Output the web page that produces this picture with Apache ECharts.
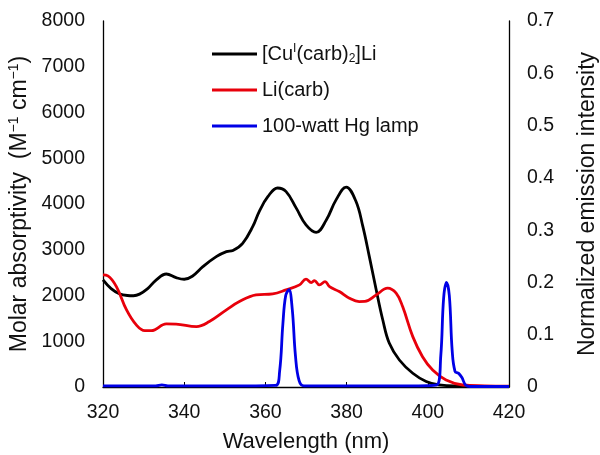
<!DOCTYPE html>
<html>
<head>
<meta charset="utf-8">
<script src="https://cdn.jsdelivr.net/npm/echarts@6/dist/echarts.min.js"></script>
<style>
  html, body { margin: 0; padding: 0; background: #fff; }
  #chart { width: 600px; height: 455px; }
</style>
</head>
<body>
<div id="chart"></div>
<script>
// absorption of the copper complex (left axis)
const cuWave = [320, 322, 324, 326, 327.5, 329, 331, 333, 335.6, 338, 340, 342, 344.6, 347.9, 350.4, 352, 354.4, 356.9, 358.5, 360.6, 363, 365.1, 367.6, 370, 372.5, 375, 377.4, 379.9, 382.3, 384, 385.6, 387.3, 388.9, 390.5, 393, 396.3, 399.6, 402.8, 408.5, 414, 420]
const cuAbs = [2340, 2150, 2040, 2000, 1995, 2030, 2150, 2330, 2470, 2390, 2355, 2420, 2630, 2850, 2960, 2985, 3140, 3510, 3840, 4160, 4350, 4270, 3910, 3545, 3380, 3650, 4090, 4370, 4060, 3510, 2850, 2120, 1470, 960, 590, 300, 120, 45, 20, 12, 10]

// absorption of Li(carb) (left axis)
const liWave = [320, 321.2, 323.3, 325.8, 328.2, 330.3, 331.9, 335.6, 338, 343, 346.2, 350.4, 353.6, 357.7, 361.8, 365.1, 368.4, 370, 371.3, 372.1, 373.3, 374.7, 375.8, 378.2, 380.7, 383.1, 384.5, 387.3, 390.1, 392.2, 393.8, 396.3, 398.7, 401.2, 404.5, 408.6, 414, 420]
const liAbs = [2450, 2430, 2195, 1685, 1357, 1232, 1232, 1379, 1375, 1320, 1430, 1685, 1867, 2013, 2035, 2123, 2232, 2357, 2283, 2327, 2232, 2305, 2195, 2086, 1940, 1867, 1870, 2013, 2160, 2050, 1758, 1101, 663, 372, 153, 44, 25, 20]

// Hg lamp emission (right axis)
const hgWave = [320, 333, 334.5, 336, 350, 362.5, 363.5, 364.3, 365, 365.8, 366.6, 367.4, 368.3, 369.5, 380, 395, 402.2, 403.2, 403.9, 404.6, 405.3, 406, 406.7, 407.6, 408.4, 409.3, 410.5, 420]
const hgInt = [0.002, 0.002, 0.004, 0.002, 0.002, 0.003, 0.03, 0.12, 0.175, 0.186, 0.15, 0.06, 0.012, 0.002, 0.002, 0.002, 0.004, 0.06, 0.17, 0.2, 0.175, 0.07, 0.03, 0.026, 0.018, 0.004, 0.001, 0.001]

const seriesNames = ['[CuI(carb)2]Li', 'Li(carb)', '100-watt Hg lamp']

const pairs = (xs, ys) => xs.map((x, i) => [x, ys[i]])
const font = 'Liberation Sans, Arial, sans-serif'
const ink = '#111'

const chart = echarts.init(document.getElementById('chart'))
chart.setOption({
  animation: false,
  textStyle: { fontFamily: font },
  grid: { left: 103, right: 91, top: 21, bottom: 68, outerBoundsMode: 'none' },
  legend: {
    left: 207,
    top: 38,
    orient: 'vertical',
    itemWidth: 45,
    itemHeight: 3,
    itemGap: 14,
    icon: 'rect',
    data: seriesNames,
    formatter: function (name) {
      if (name === seriesNames[0]) return '[Cu{sup|I}(carb){sub|2}]Li'
      return name
    },
    textStyle: {
      fontFamily: font,
      fontSize: 20,
      lineHeight: 22,
      color: ink,
      rich: {
        sup: { fontSize: 12, lineHeight: 22, verticalAlign: 'top', padding: [0, 0, 8, 0], color: ink },
        sub: { fontSize: 12, lineHeight: 22, verticalAlign: 'bottom', padding: [10, 0, 0, 0], color: ink },
      },
    },
  },
  xAxis: {
    type: 'value',
    min: 320,
    max: 420,
    interval: 20,
    name: 'Wavelength (nm)',
    nameLocation: 'middle',
    nameGap: 44,
    nameTextStyle: { fontSize: 22, color: ink, fontFamily: font },
    axisLine: { lineStyle: { color: '#000', width: 1.3 } },
    axisTick: { inside: true, length: 5, lineStyle: { color: '#000' } },
    axisLabel: { fontSize: 19.5, color: ink, margin: 16, fontFamily: font },
    splitLine: { show: false },
  },
  yAxis: [
    {
      type: 'value',
      min: 0,
      max: 8000,
      interval: 1000,
      name: 'Molar absorptivity  (M{sup|−1} cm{sup|−1})',
      nameLocation: 'middle',
      nameGap: 70,
      nameTextStyle: {
        fontSize: 23,
        color: ink,
        fontFamily: font,
        rich: { sup: { fontSize: 14, padding: [0, 0, 10, 0], color: ink, fontFamily: font } },
      },
      axisLine: { show: true, lineStyle: { color: '#000', width: 1.3 } },
      axisTick: { show: false },
      axisLabel: { fontSize: 19.5, color: ink, margin: 18, fontFamily: font, formatter: v => String(v) },
      splitLine: { show: false },
    },
    {
      type: 'value',
      min: 0,
      max: 0.7,
      interval: 0.1,
      name: 'Normalized emission intensity',
      nameLocation: 'middle',
      nameGap: 67,
      nameRotate: 90,
      nameTextStyle: { fontSize: 23, color: ink, fontFamily: font },
      axisLine: { show: true, lineStyle: { color: '#000', width: 1.3 } },
      axisTick: { show: false },
      axisLabel: { fontSize: 19.5, color: ink, margin: 18, fontFamily: font, formatter: v => String(Math.round(v * 10) / 10) },
      splitLine: { show: false },
    },
  ],
  series: [
    {
      name: seriesNames[0],
      type: 'line',
      data: pairs(cuWave, cuAbs),
      showSymbol: false,
      smooth: 0.4,
      lineStyle: { color: '#000', width: 2.8 },
      itemStyle: { color: '#000' },
    },
    {
      name: seriesNames[1],
      type: 'line',
      data: pairs(liWave, liAbs),
      showSymbol: false,
      smooth: 0.4,
      lineStyle: { color: '#e8000b', width: 2.8 },
      itemStyle: { color: '#e8000b' },
    },
    {
      name: seriesNames[2],
      type: 'line',
      yAxisIndex: 1,
      data: pairs(hgWave, hgInt),
      showSymbol: false,
      smooth: 0.4,
      lineStyle: { color: '#0000e6', width: 2.8 },
      itemStyle: { color: '#0000e6' },
    },
  ],
})
</script>
</body>
</html>
